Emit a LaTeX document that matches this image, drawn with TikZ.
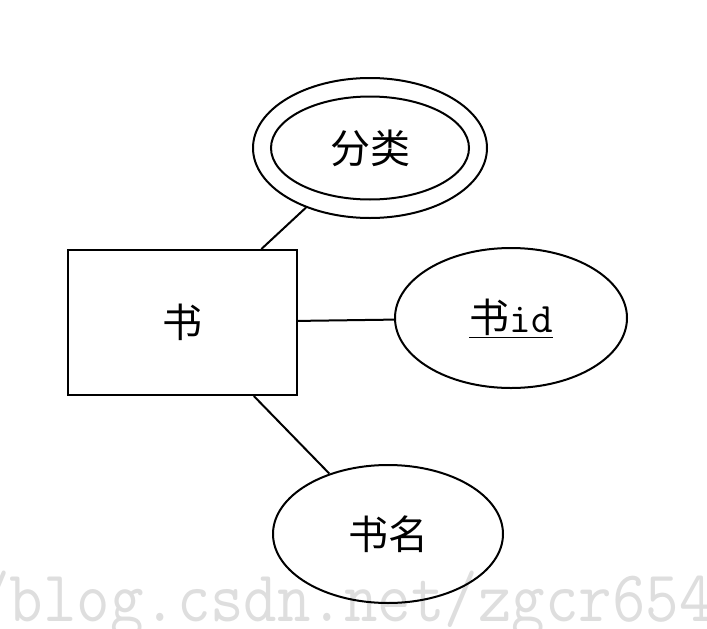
\documentclass[tikz,border=0pt]{standalone}
\usepackage{fontspec}
\usetikzlibrary{shapes.geometric}
\newfontfamily\cjk{Noto Sans CJK SC}
\begin{document}
\begin{tikzpicture}[x=1pt,y=-1pt,
  ent/.style={draw, line width=2pt, rectangle, inner sep=0pt},
  attr/.style={draw, line width=2pt, ellipse, inner sep=0pt},
  lbl/.style={font=\cjk\fontsize{40}{44}\selectfont},
  conn/.style={line width=2pt}]
\useasboundingbox (0,0) rectangle (707,629);
\clip (0,0) rectangle (707,629);
% watermark
\node[anchor=base west, text=black!13, inner sep=0pt] (wm) at (-24,621)
  {\scalebox{1}[1.12]{\ttfamily\fontsize{65}{68}\selectfont /blog.csdn.net/zgcr654}};
% entity
\node[ent, minimum width=229pt, minimum height=145pt, lbl] (book) at (182.5,322.5) {书};
% double ellipse attribute
\node[attr, minimum width=234pt, minimum height=140pt] (cat) at (370,148) {};
\node[attr, minimum width=198pt, minimum height=103pt, lbl] (catin) at (370,148) {分类};
% key attribute
\node[attr, minimum width=232pt, minimum height=140pt] (bid) at (511,318)
  {\underline{{\cjk\fontsize{40}{44}\selectfont 书}{\ttfamily\fontsize{42}{44}\selectfont id}}};
% name attribute
\node[attr, minimum width=230pt, minimum height=138pt, lbl] (bname) at (388,534) {书名};
% connectors
\draw[conn] (book) -- (cat);
\draw[conn] (book) -- (bid);
\draw[conn] (book) -- (bname);
\end{tikzpicture}
\end{document}
